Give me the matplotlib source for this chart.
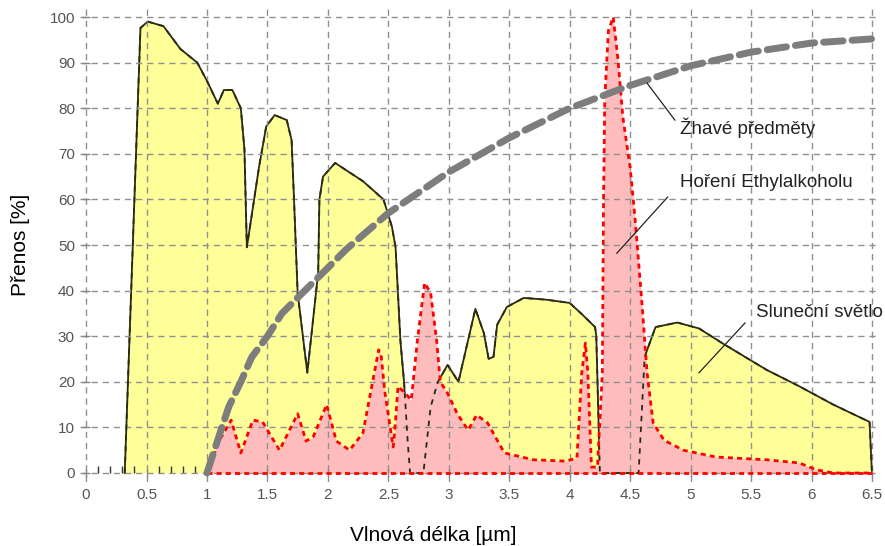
import matplotlib
matplotlib.use("Agg")
import matplotlib.pyplot as plt
from matplotlib.ticker import FixedLocator

plt.rcParams['font.family'] = ['Liberation Sans', 'DejaVu Sans']

# Slunecni svetlo (yellow)
sun_x = [0.32, 0.45, 0.51, 0.64, 0.78, 0.92, 1.00, 1.09, 1.14, 1.21, 1.28, 1.31, 1.32, 1.33,
         1.43, 1.49, 1.56, 1.66, 1.70, 1.72, 1.75, 1.83, 1.92, 1.93, 1.96, 2.06, 2.29, 2.46,
         2.53, 2.56, 2.60, 2.63, 2.66, 2.68, 2.79, 2.85, 2.91, 2.99, 3.08, 3.22, 3.29, 3.33,
         3.37, 3.40, 3.48, 3.62, 3.81, 4.00, 4.11, 4.21, 4.22, 4.25, 4.57, 4.62, 4.71, 4.89,
         5.07, 5.26, 5.63, 5.90, 6.18, 6.48, 6.50]
sun_y = [0, 97.6, 99, 98, 93, 90, 86, 81, 84, 84, 80, 71, 60, 49.5,
         67, 76, 78.5, 77.4, 73, 60, 39.5, 22, 44, 60, 65, 68, 64, 60,
         54, 49.5, 29, 20, 7, 0, 0, 14.5, 20, 23.7, 20, 36, 30.7, 25,
         25.5, 32.5, 36.4, 38.4, 38, 37.3, 34.6, 32, 30, 0, 0, 25.5, 32, 33,
         31.7, 28.5, 22.6, 19, 15, 11.2, 0]

# Horeni Ethylalkoholu (red)
eth_x = [1.00, 1.10, 1.20, 1.28, 1.38, 1.46, 1.60, 1.75, 1.82, 1.88, 1.99, 2.07, 2.18, 2.29,
         2.37, 2.42, 2.44, 2.47, 2.51, 2.54, 2.56, 2.58, 2.64, 2.69, 2.74, 2.80, 2.85, 2.90,
         2.93, 2.99, 3.07, 3.16, 3.23, 3.32, 3.46, 3.70, 3.97, 4.06, 4.10, 4.13, 4.15, 4.18,
         4.23, 4.27, 4.28, 4.29, 4.32, 4.36, 4.40, 4.44, 4.50, 4.54, 4.56, 4.60, 4.64, 4.69,
         4.78, 4.94, 5.21, 5.63, 5.90, 6.04, 6.18, 6.50]
eth_y = [0, 7, 11.6, 4.4, 11.6, 11.2, 5, 13, 7, 8, 15, 7, 5, 8.8,
         20, 27, 26, 18, 11, 5.7, 11.6, 19, 17.5, 16, 29, 41.7, 39.5, 29,
         20, 17.5, 13, 9.4, 12.7, 11, 4.4, 2.9, 2.6, 3.3, 22, 28.5, 22, 1.3,
         1.3, 22, 60, 82, 97, 100, 90.5, 78, 67, 56, 49.5, 36.4, 22, 11,
         7.2, 5, 3.5, 2.9, 2.2, 0.7, 0, 0]

# Zhave predmety (gray dashed)
hot_x = [1.00, 1.07, 1.18, 1.28, 1.37, 1.50, 1.62, 1.79, 2.00, 2.15, 2.50, 3.00, 3.50,
         4.00, 4.50, 5.00, 5.50, 6.00, 6.50]
hot_y = [0, 5.7, 14.5, 20, 25.4, 30, 35, 39.5, 45, 49, 57, 66, 73.5,
         80, 85, 89.3, 92.3, 94.3, 95.2]

xticks = [0, 0.5, 1, 1.5, 2, 2.5, 3, 3.5, 4, 4.5, 5, 5.5, 6, 6.5]
xticklabels = ['0', '0.5', '1', '1.5', '2', '2.5', '3', '3.5', '4', '4.5', '5', '5.5', '6', '6.5']
yticks = [0, 10, 20, 30, 40, 50, 60, 70, 80, 90, 100]

fig = plt.figure(figsize=(8.85, 5.46), dpi=100)
ax = fig.add_axes([0.0904, 0.117, 0.9017, 0.8685])

ax.fill_between(sun_x, sun_y, 0, color='#ffff99', lw=0, zorder=1)
ax.plot(sun_x, sun_y, color='#2b2b14', lw=1.3, zorder=1.2)
ax.fill_between(eth_x, eth_y, 0, color='#ffbcbc', lw=0, zorder=1.4)
ax.plot(sun_x, sun_y, color='#2b2b14', lw=1.3, dashes=(3, 3), zorder=1.6)

ax.plot(eth_x, eth_y, color='#ff0000', lw=2, dashes=(1.8, 1.5), zorder=3)
ax.plot([eth_x[0], eth_x[-1]], [0, 0], color='#ff0000', lw=2, dashes=(1.8, 1.5), zorder=3)
ax.plot(hot_x, hot_y, color='#7d7d7d', lw=5, dashes=(2.8, 1.3),
        solid_capstyle='round', dash_capstyle='round', zorder=4)

# annotations
ax.plot([4.64, 4.87], [85.5, 77.4], color='#222222', lw=0.9, zorder=5)
ax.text(4.91, 75.7, 'Žhavé předměty', fontsize=13.5, va='center', ha='left', color='#222222')
ax.plot([4.81, 4.39], [60.5, 48.2], color='#222222', lw=0.9, zorder=5)
ax.text(4.91, 63.8, 'Hoření Ethylalkoholu', fontsize=13.5, va='center', ha='left', color='#222222')
ax.plot([5.45, 5.07], [32.9, 22], color='#222222', lw=0.9, zorder=5)
ax.text(5.54, 35.1, 'Sluneční světlo', fontsize=13.5, va='center', ha='left', color='#222222')

ax.set_xlim(-0.05, 6.55)
ax.set_ylim(-2, 102)
ax.set_xticks(xticks)
ax.set_xticklabels(xticklabels)
ax.set_yticks(yticks)
ax.xaxis.set_minor_locator(FixedLocator([0.1, 0.2, 0.3, 0.4, 0.6, 0.7, 0.8, 0.9]))
ax.tick_params(axis='x', which='minor', direction='in', length=5, width=1, color='#333333')
ax.tick_params(axis='both', which='major', direction='inout', length=6, width=1,
               color='#888888', labelcolor='#555555', labelsize=11)
ax.tick_params(axis='x', which='major', pad=8)
ax.tick_params(axis='y', which='major', pad=5)

ax.grid(True, which='major', color='#909090', lw=1, dashes=(4.5, 3.5))
ax.spines['bottom'].set_position(('data', 0))
ax.spines['left'].set_position(('data', 0))
for s in ax.spines.values():
    s.set_visible(False)

fig.text(0.489, 0.02, 'Vlnová délka [µm]', fontsize=15, ha='center', va='center')
fig.text(0.0226, 0.551, 'Přenos [%]', fontsize=15, ha='center', va='center', rotation=90)

fig.savefig('out.png', dpi=100)
